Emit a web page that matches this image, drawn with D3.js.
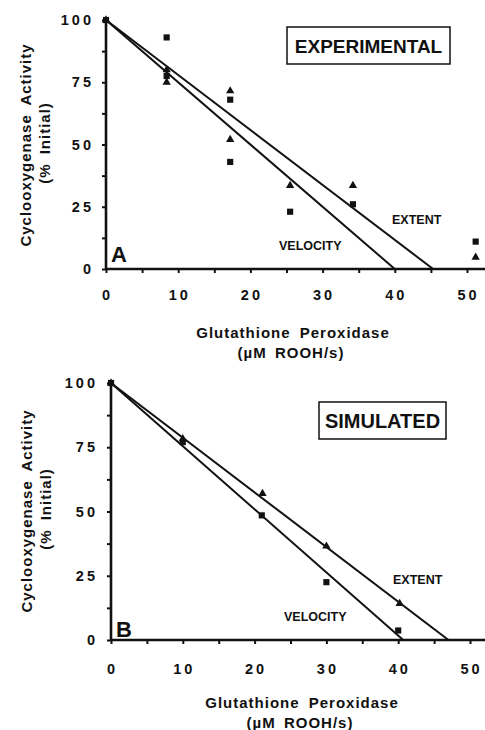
<!DOCTYPE html>
<html>
<head>
<meta charset="utf-8">
<script src="https://cdn.jsdelivr.net/npm/d3@7"></script>
<style>
  html, body { margin: 0; padding: 0; background: #fff; }
  svg { display: block; }
  text { font-family: "Liberation Sans", Arial, Helvetica, sans-serif; font-weight: bold; fill: #111; }
</style>
</head>
<body>
<svg id="chart" width="485" height="730"></svg>
<script>
// ---- Data ----
// Panel A: experimental measurements (squares = velocity, triangles = extent)
const expVelocityX = [0, 8.4, 8.4, 17.2, 17.2, 25.5, 34.2, 51.2];
const expVelocityY = [100, 93, 77.5, 68, 43, 23, 26, 11];
const expExtentX   = [0, 8.4, 8.4, 17.2, 17.2, 25.5, 34.2, 51.2];
const expExtentY   = [100, 80, 75, 71.5, 52, 33.5, 33.5, 4.7];
// fitted lines for panel A: from 100% at x=0 down to 0% at the intercept
const expVelocityFitX = [0, 40];
const expExtentFitX   = [0, 45.3];
const fitY = [100, 0];

// Panel B: simulated values
const simVelocityX = [0, 10, 21, 30, 40];
const simVelocityY = [100, 77, 48.5, 22.5, 3.7];
const simExtentX   = [0, 10, 21.1, 30, 40.2];
const simExtentY   = [100, 78.3, 57, 36.5, 14.2];
const simVelocityFitX = [0, 40.7];
const simExtentFitX   = [0, 47];

// Axis ticks and labels
const xMajorTicks = [0, 10, 20, 30, 40, 50];
const xMinorTicks = [0, 5, 10, 15, 20, 25, 30, 35, 40, 45, 50];
const yMajorTicks = [0, 25, 50, 75, 100];
const yMinorTicks = [0, 12.5, 25, 37.5, 50, 62.5, 75, 87.5, 100];
const yTitle = "Cyclooxygenase Activity";
const ySubtitle = "(% Initial)";
const xTitle = "Glutathione Peroxidase";
const xSubtitle = "(\u00B5M ROOH/s)";

const svg = d3.select("#chart");

function drawPanel(p) {
  const g = svg.append("g");
  const x = d3.scaleLinear().domain([0, 50]).range([p.x0, p.x50]);
  const y = d3.scaleLinear().domain([0, 100]).range([p.y0, p.y100]);

  // x axis: line to the right edge, ticks every 5
  const xAxis = g.append("g").attr("transform", `translate(0,${p.y0})`)
    .call(d3.axisBottom(x).tickValues(xMinorTicks).tickSize(4).tickSizeOuter(0).tickFormat(""));
  xAxis.select(".domain").remove();
  xAxis.selectAll(".tick line").attr("stroke", "#111").attr("stroke-width", 2);
  g.append("line").attr("x1", p.x0).attr("x2", 485).attr("y1", p.y0).attr("y2", p.y0)
    .attr("stroke", "#111").attr("stroke-width", 2.6);

  // y axis
  const yAxis = g.append("g").attr("transform", `translate(${p.x0},0)`)
    .call(d3.axisLeft(y).tickValues(yMinorTicks).tickSize(4).tickSizeOuter(0).tickFormat(""));
  yAxis.select(".domain").remove();
  yAxis.selectAll(".tick line").attr("stroke", "#111").attr("stroke-width", 2);
  g.append("line").attr("x1", p.x0).attr("x2", p.x0).attr("y1", y(100)).attr("y2", p.y0 + 1)
    .attr("stroke", "#111").attr("stroke-width", 2.6);

  // tick labels
  g.selectAll(".xl").data(xMajorTicks).enter().append("text")
    .attr("x", d => x(d) + 1.5).attr("y", p.xLabelY)
    .attr("text-anchor", "middle").attr("dominant-baseline", "central")
    .style("font-size", "14.5px").style("letter-spacing", "3px")
    .text(d => d);
  g.selectAll(".yl").data(yMajorTicks).enter().append("text")
    .attr("x", p.yLabelX).attr("y", d => y(d))
    .attr("text-anchor", "end").attr("dominant-baseline", "central")
    .style("font-size", "14.5px").style("letter-spacing", "3px")
    .text(d => d);

  // axis titles
  g.append("text").attr("transform", `translate(${p.yTitleX},${p.yTitleY}) rotate(-90)`)
    .attr("text-anchor", "middle").attr("dominant-baseline", "central")
    .style("font-size", "15px").style("letter-spacing", "1px").style("word-spacing", "4px")
    .text(yTitle);
  g.append("text").attr("transform", `translate(${p.yTitleX + 19},${p.yTitleY - 2}) rotate(-90)`)
    .attr("text-anchor", "middle").attr("dominant-baseline", "central")
    .style("font-size", "15px").style("letter-spacing", "1px").style("word-spacing", "4px")
    .text(ySubtitle);
  g.append("text").attr("x", p.xTitleX).attr("y", p.xTitleY)
    .attr("text-anchor", "middle").attr("dominant-baseline", "central")
    .style("font-size", "15px").style("letter-spacing", "1px").style("word-spacing", "4px")
    .text(xTitle);
  g.append("text").attr("x", p.xTitleX - 2).attr("y", p.xTitleY + 20)
    .attr("text-anchor", "middle").attr("dominant-baseline", "central")
    .style("font-size", "15px").style("letter-spacing", "1px").style("word-spacing", "3px")
    .text(xSubtitle);

  // fitted lines
  const line = d3.line().x(d => x(d[0])).y(d => y(d[1]));
  [p.velFitX, p.extFitX].forEach(fx => {
    g.append("path").datum(fx.map((v, i) => [v, fitY[i]]))
      .attr("d", line).attr("fill", "none").attr("stroke", "#111").attr("stroke-width", 2);
  });

  // markers
  const sq = d3.symbol().type(d3.symbolSquare).size(38);
  const tri = d3.symbol().type(d3.symbolTriangle).size(30);
  g.selectAll(".sq").data(p.velX.map((v, i) => [v, p.velY[i]])).enter().append("path")
    .attr("d", sq).attr("transform", d => `translate(${x(d[0])},${y(d[1])})`).attr("fill", "#111");
  g.selectAll(".tr").data(p.extX.map((v, i) => [v, p.extY[i]])).enter().append("path")
    .attr("d", tri).attr("transform", d => `translate(${x(d[0])},${y(d[1])})`).attr("fill", "#111");

  // boxed title
  g.append("rect").attr("x", p.boxX).attr("y", p.boxY)
    .attr("width", p.boxW).attr("height", p.boxH)
    .attr("fill", "none").attr("stroke", "#111").attr("stroke-width", 1.5);
  g.append("text").attr("x", p.boxCx).attr("y", p.boxCy)
    .attr("text-anchor", "middle").attr("dominant-baseline", "central")
    .style("font-size", p.boxFont + "px").text(p.boxText);

  // line labels
  g.append("text").attr("x", p.extLabel[0]).attr("y", p.extLabel[1])
    .attr("dominant-baseline", "central").style("font-size", "12.5px").text("EXTENT");
  g.append("text").attr("x", p.velLabel[0]).attr("y", p.velLabel[1])
    .attr("dominant-baseline", "central").style("font-size", "12.5px").text("VELOCITY");

  // panel letter
  g.append("text").attr("x", p.x0 + 5).attr("y", p.letterY)
    .style("font-size", "22px").text(p.letter);
}

drawPanel({
  x0: 106, x50: 467, y0: 269, y100: 20,
  xLabelY: 295, yLabelX: 94,
  yTitleX: 25, yTitleY: 145, xTitleX: 293, xTitleY: 332,
  velX: expVelocityX, velY: expVelocityY, extX: expExtentX, extY: expExtentY,
  velFitX: expVelocityFitX, extFitX: expExtentFitX,
  boxText: "EXPERIMENTAL", boxFont: 19, boxCx: 368.5, boxCy: 46,
  boxX: 287, boxY: 27, boxW: 163, boxH: 37,
  extLabel: [392, 220], velLabel: [279, 246],
  letter: "A", letterY: 262
});

drawPanel({
  x0: 111, x50: 470, y0: 640, y100: 383,
  xLabelY: 669, yLabelX: 98,
  yTitleX: 26, yTitleY: 511, xTitleX: 302, xTitleY: 702,
  velX: simVelocityX, velY: simVelocityY, extX: simExtentX, extY: simExtentY,
  velFitX: simVelocityFitX, extFitX: simExtentFitX,
  boxText: "SIMULATED", boxFont: 20, boxCx: 382.5, boxCy: 421,
  boxX: 319, boxY: 402, boxW: 127, boxH: 37,
  extLabel: [393, 580], velLabel: [284, 617],
  letter: "B", letterY: 637
});
</script>
</body>
</html>
